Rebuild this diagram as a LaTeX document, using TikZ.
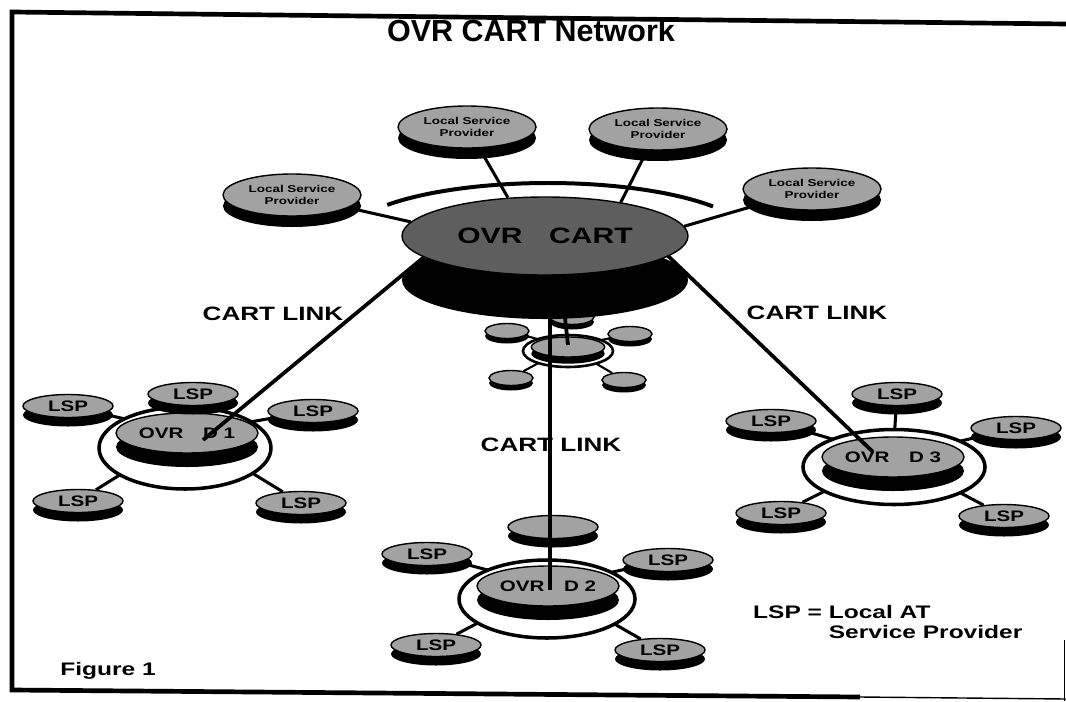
\documentclass[tikz,border=0pt]{standalone}
\usepackage{fontspec}
\setmainfont{Liberation Sans}
\newfontfamily\wideFont{Liberation Sans}[FakeStretch=1.35]
\definecolor{lspGray}{HTML}{A2A2A2}
\definecolor{cartGray}{HTML}{5E5E5E}
\usetikzlibrary{shapes.geometric,shadows,backgrounds}

\tikzset{
  disc/.style={ellipse, draw=black, line width=1.2pt, inner sep=0pt, fill=lspGray,
    drop shadow={shadow xshift=0pt, shadow yshift=-#1, fill=black, opacity=1}},
  lspDisc/.style={disc=0.27cm, minimum width=2.7cm, minimum height=0.69cm,
    font=\wideFont\bfseries\fontsize{13}{13}\selectfont},
  provDisc/.style={disc=0.33cm, minimum width=4.14cm, minimum height=1.26cm,
    align=center, font=\wideFont\bfseries\fontsize{8.5}{10}\selectfont},
  hubDisc/.style={disc=0.42cm, minimum width=4.26cm, minimum height=1.2cm,
    font=\wideFont\bfseries\fontsize{13}{13}\selectfont},
  miniHub/.style={disc=0.2cm, minimum width=2.2cm, minimum height=0.6cm},
  miniDisc/.style={disc=0.15cm, minimum width=1.32cm, minimum height=0.45cm},
  cartDisc/.style={disc=1.32cm, fill=cartGray, minimum width=8.58cm, minimum height=2.34cm,
    font=\wideFont\bfseries\fontsize{19}{19}\selectfont},
  ring/.style={ellipse, draw=black, line width=3pt, fill=white, inner sep=0pt},
  spoke/.style={line width=2.6pt},
  cartLink/.style={line width=3.2pt},
  linkLabel/.style={font=\wideFont\bfseries\fontsize{16.5}{16.5}\selectfont},
  noteLabel/.style={font=\wideFont\bfseries\fontsize{15.5}{17}\selectfont, inner sep=0pt},
}

\begin{document}
\begin{tikzpicture}[x=0.03cm, y=-0.03cm]
  \useasboundingbox (0,0) rectangle (1066,701);
  \draw[line width=4pt] (1066,24) -- (12,12) -- (12,690) -- (860,697);
  \draw[line width=1.2pt] (860,697) -- (1066,699);
  \draw[line width=0.6pt] (1064,640) -- (1064,701);

  \node[font=\bfseries\fontsize{26}{30}\selectfont] (title) at (531,31) {OVR CART Network};
  \node[linkLabel] (linkLeft) at (273,314) {CART LINK};
  \node[linkLabel] (linkRight) at (817,313) {CART LINK};
  \node[linkLabel] (linkMid) at (551,445) {CART LINK};
  \node[noteLabel] (figure) at (108,671) {Figure 1};
  \node[noteLabel, anchor=north west] (legend) at (753,604)
    {\begin{tabular}{@{}l@{}l@{}}LSP =~ & Local AT\\ & Service Provider\end{tabular}};

  \node[ring, minimum width=5.16cm, minimum height=2.46cm] (ring1) at (185,448) {};
  \node[ring, minimum width=5.28cm, minimum height=2.34cm] (ring2) at (547,599) {};
  \node[ring, minimum width=5.46cm, minimum height=2.25cm] (ring3) at (894,467) {};
  \node[ring, minimum width=2.7cm, minimum height=0.96cm, line width=2.2pt] (ring4) at (568,351) {};

  \node[hubDisc] (d1) at (187,433) {\makebox[0pt]{OVR\hspace{1.3em}D 1}};
  \node[lspDisc] (d1n) at (193,394) {LSP};
  \node[lspDisc] (d1w) at (68,406) {LSP};
  \node[lspDisc] (d1e) at (313,411) {LSP};
  \node[lspDisc] (d1sw) at (78,501) {LSP};
  \node[lspDisc] (d1se) at (301,503) {LSP};

  \node[hubDisc] (d2) at (548,586) {\makebox[0pt]{OVR\hspace{1.3em}D 2}};
  \node[lspDisc] (d2n) at (553,527) {};
  \node[lspDisc] (d2w) at (427,554) {LSP};
  \node[lspDisc] (d2e) at (668,560) {LSP};
  \node[lspDisc] (d2sw) at (436,645) {LSP};
  \node[lspDisc] (d2se) at (660,650) {LSP};

  \node[hubDisc] (d3) at (893,457) {\makebox[0pt]{OVR\hspace{1.3em}D 3}};
  \node[lspDisc] (d3n) at (897,394) {LSP};
  \node[lspDisc] (d3w) at (771,421) {LSP};
  \node[lspDisc] (d3e) at (1016,428) {LSP};
  \node[lspDisc] (d3sw) at (781,513) {LSP};
  \node[lspDisc] (d3se) at (1004,516) {LSP};

  \node[miniHub] (d4) at (568,347) {};
  \node[miniDisc] (d4n) at (572,317) {};
  \node[miniDisc] (d4w) at (507,331) {};
  \node[miniDisc] (d4e) at (630,334) {};
  \node[miniDisc] (d4sw) at (511,378) {};
  \node[miniDisc] (d4se) at (624,380) {};

  \coordinate (cl1) at (470,219);
  \coordinate (cl2) at (550,290);
  \coordinate (cl3) at (620,210);
  \coordinate (cl4) at (563,300);
  \coordinate (d1tip) at (203,440);
  \coordinate (d2tip) at (550,590);
  \coordinate (d3tip) at (873,452);
  \coordinate (d4tip) at (568,345);
  \draw[cartLink] (cl1) -- (d1tip);
  \draw[cartLink] (cl2) -- (d2tip);
  \draw[cartLink] (cl3) -- (d3tip);
  \draw[cartLink] (cl4) -- (d4tip);

  \draw[line width=3.4pt] (713,206.5) arc[start angle=-36, end angle=-142, x radius=204, y radius=57];
  \node[cartDisc] (cart) at (545,236) {OVR\hspace{1.2em}CART};
  \node[provDisc] (provA) at (292,195) {Local Service\\Provider};
  \node[provDisc] (provB) at (467,127) {Local Service\\Provider};
  \node[provDisc] (provC) at (658,129) {Local Service\\Provider};
  \node[provDisc] (provD) at (812,189) {Local Service\\Provider};

  \begin{pgfonlayer}{background}
    \draw[spoke] (provA) -- (cart.174);
    \draw[spoke] (provB) -- (cart.134);
    \draw[spoke] (provC) -- (cart.24);
    \draw[spoke] (provD) -- (cart.4);
    \draw[spoke] (d1n) -- (d1);
    \draw[spoke] (d1w) -- (d1);
    \draw[spoke] (d1e) -- (d1);
    \draw[spoke] (d1sw) -- (d1);
    \draw[spoke] (d1se) -- (d1);
    \draw[spoke] (d2w) -- (d2);
    \draw[spoke] (d2e) -- (d2);
    \draw[spoke] (d2sw) -- (d2);
    \draw[spoke] (d2se) -- (d2);
    \draw[spoke] (d3n) -- (d3);
    \draw[spoke] (d3w) -- (d3);
    \draw[spoke] (d3e) -- (d3);
    \draw[spoke] (d3sw) -- (d3);
    \draw[spoke] (d3se) -- (d3);
    \draw[spoke, line width=1.8pt] (d4w) -- (d4);
    \draw[spoke, line width=1.8pt] (d4e) -- (d4);
    \draw[spoke, line width=1.8pt] (d4sw) -- (d4);
    \draw[spoke, line width=1.8pt] (d4se) -- (d4);
  \end{pgfonlayer}
\end{tikzpicture}
\end{document}
